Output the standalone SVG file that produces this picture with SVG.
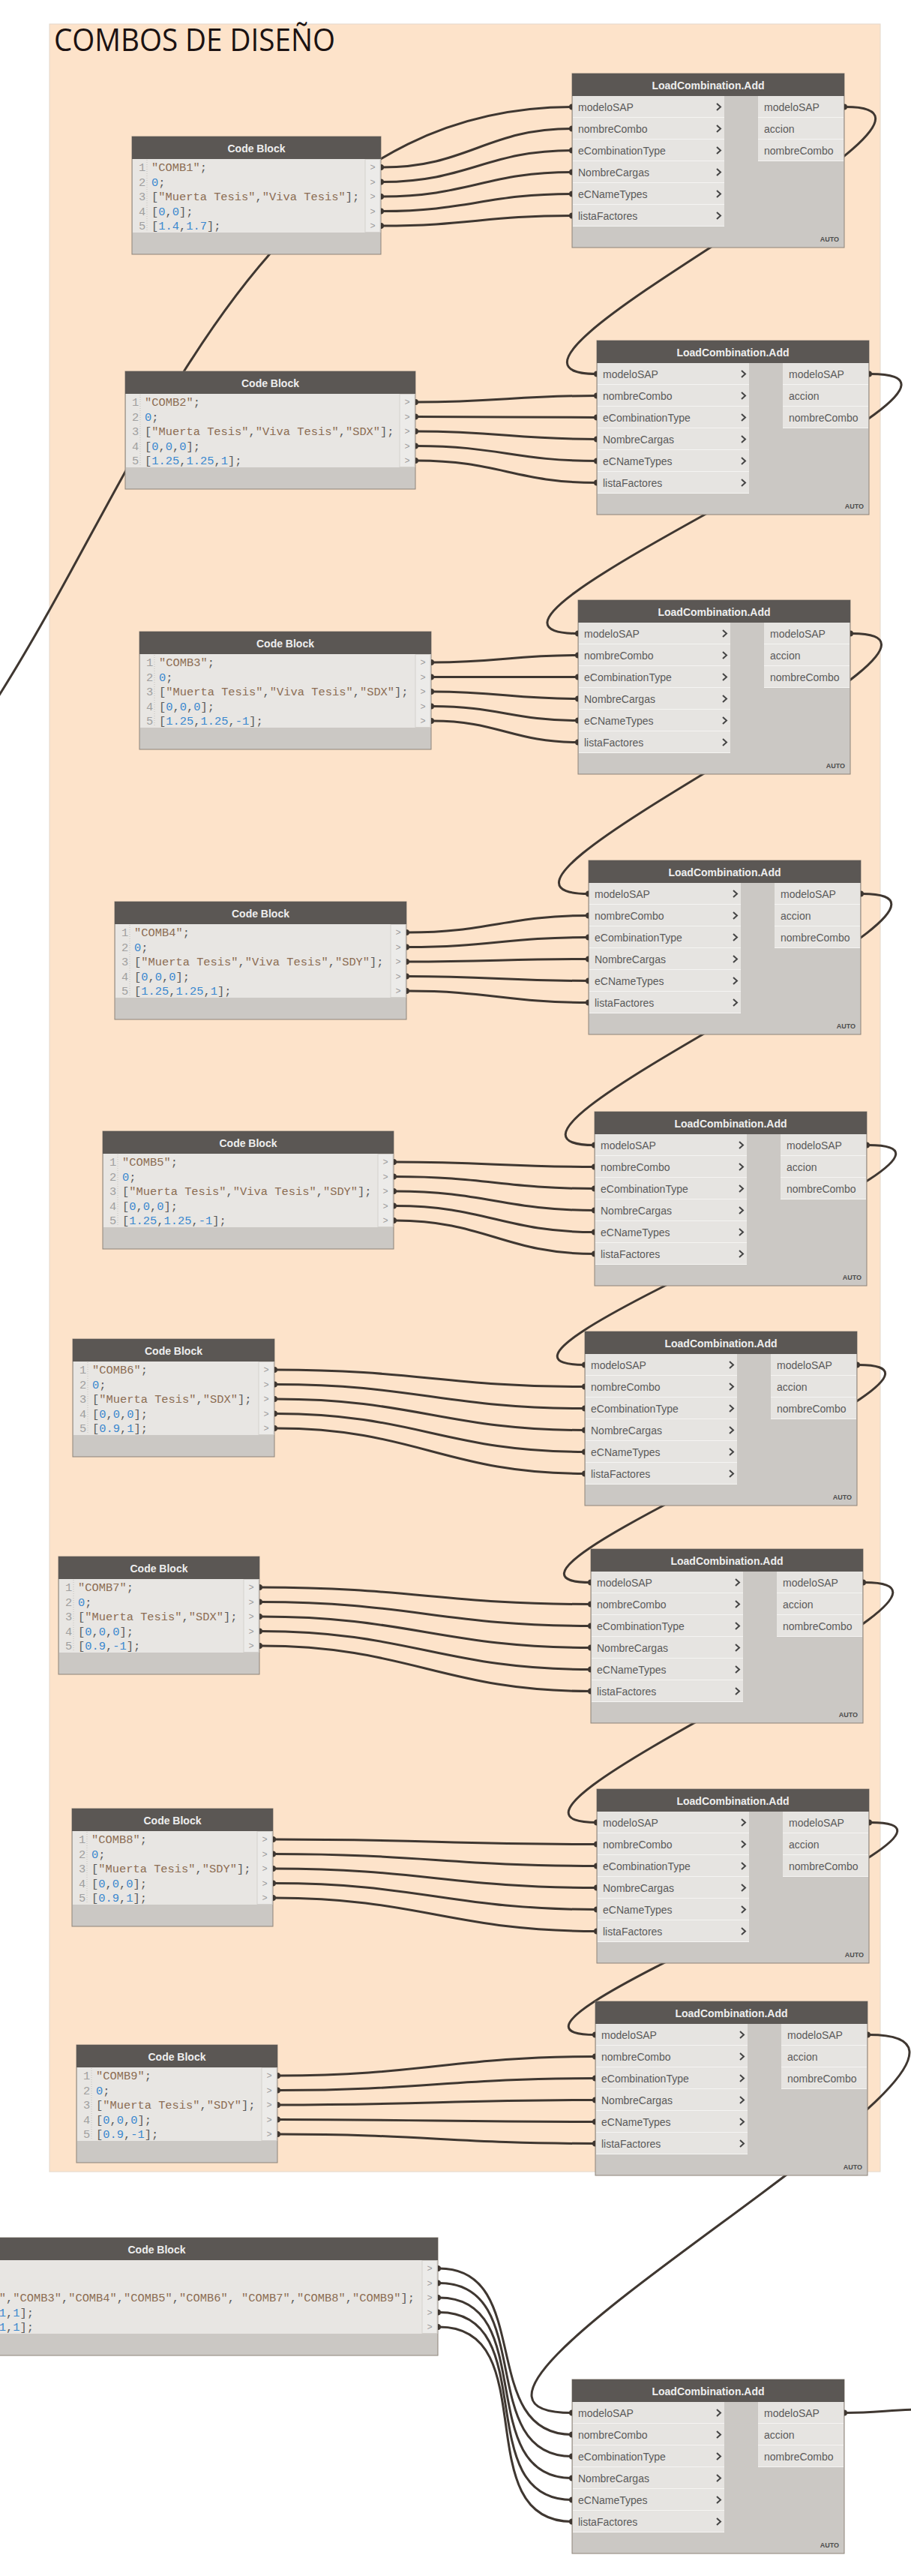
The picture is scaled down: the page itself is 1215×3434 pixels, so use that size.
<svg xmlns="http://www.w3.org/2000/svg" width="1215" height="3434" viewBox="0 0 1215 3434">
<style>
.wire{fill:none;stroke:#3f3731;stroke-width:3;stroke-linecap:round}
.body{fill:#cbc8c4;stroke:#8d8379;stroke-width:1}
.hdr{fill:#5b5754}
.ht{font-family:"Liberation Sans",Arial,sans-serif;font-size:14px;font-weight:bold;fill:#eeeeee;text-anchor:middle}
.row{fill:#e6e4e1}
.col{fill:#f5f4f2}
.lb{font-family:"Liberation Sans",Arial,sans-serif;font-size:14px;fill:#5a5a5a}
.auto{font-family:"Liberation Sans",Arial,sans-serif;font-size:9px;font-weight:bold;fill:#4d4d4d;text-anchor:end}
.chev{fill:none;stroke:#454545;stroke-width:2}
.pin{fill:#3f3731}
.code{fill:#e8e6e3}
.pcol{fill:#ecebe9;stroke:#d4d1cd;stroke-width:1}
.ln{font-family:"Liberation Mono",monospace;font-size:15.4px;fill:#a0a0a0}
.ct{font-family:"Liberation Mono",monospace;font-size:15.4px;fill:#5b5b5b;white-space:pre}
.s{fill:#8c6d53}
.n{fill:#3a88cf}
.pg{font-family:"Liberation Mono",monospace;font-size:12px;fill:#9c9c9c;text-anchor:middle}
.gut{stroke:#c4c1bd;stroke-width:1;stroke-dasharray:1 2}
.ttl{font-family:"Open Sans","Noto Sans",sans-serif;font-size:42px;fill:#1b1212}
</style>
<defs>
<path id="chev" class="chev" d="M193,-4.5 L198,0 L193,4.5"/>
<path id="pinL" class="pin" d="M0,-4 A4,4 0 0 0 0,4 Z"/>
<path id="pinR" class="pin" d="M0,-4 A4,4 0 0 1 0,4 Z"/>
</defs>
<rect width="1215" height="3434" fill="#ffffff"/>
<g id="panel">
<rect x="66" y="32" width="1108" height="2863" fill="#fde3ca" stroke="#e3d8cc" stroke-width="1"/>
<text class="ttl" x="72" y="68" textLength="375" lengthAdjust="spacingAndGlyphs">COMBOS DE DISEÑO</text>
</g>
<g id="connectors">
<path class="wire" d="M-31,975 L0,925 C205,600 344,143 763,142.5"/>
<path class="wire" d="M510,223 C624,223 649,171.5 763,171.5"/>
<path class="wire" d="M510,242.5 C624,242.5 649,200.5 763,200.5"/>
<path class="wire" d="M510,262 C624,262 649,229.5 763,229.5"/>
<path class="wire" d="M510,281.5 C624,281.5 649,258.5 763,258.5"/>
<path class="wire" d="M510,301 C624,301 649,287.5 763,287.5"/>
<path class="wire" d="M556,536 C664,536 688,527.5 796,527.5"/>
<path class="wire" d="M556,555.5 C664,555.5 688,556.5 796,556.5"/>
<path class="wire" d="M556,575 C664,575 688,585.5 796,585.5"/>
<path class="wire" d="M556,594.5 C664,594.5 688,614.5 796,614.5"/>
<path class="wire" d="M556,614 C664,614 688,643.5 796,643.5"/>
<path class="wire" d="M577,883 C664,883 684,873.5 771,873.5"/>
<path class="wire" d="M577,902.5 C664,902.5 684,902.5 771,902.5"/>
<path class="wire" d="M577,922 C664,922 684,931.5 771,931.5"/>
<path class="wire" d="M577,941.5 C664,941.5 684,960.5 771,960.5"/>
<path class="wire" d="M577,961 C664,961 684,989.5 771,989.5"/>
<path class="wire" d="M544,1243 C652,1243 677,1220.5 785,1220.5"/>
<path class="wire" d="M544,1262.5 C652,1262.5 677,1249.5 785,1249.5"/>
<path class="wire" d="M544,1282 C652,1282 677,1278.5 785,1278.5"/>
<path class="wire" d="M544,1301.5 C652,1301.5 677,1307.5 785,1307.5"/>
<path class="wire" d="M544,1321 C652,1321 677,1336.5 785,1336.5"/>
<path class="wire" d="M527,1549 C647,1549 673,1555.5 793,1555.5"/>
<path class="wire" d="M527,1568.5 C647,1568.5 673,1584.5 793,1584.5"/>
<path class="wire" d="M527,1588 C647,1588 673,1613.5 793,1613.5"/>
<path class="wire" d="M527,1607.5 C647,1607.5 673,1642.5 793,1642.5"/>
<path class="wire" d="M527,1627 C647,1627 673,1671.5 793,1671.5"/>
<path class="wire" d="M368,1826 C554,1826 594,1848.5 780,1848.5"/>
<path class="wire" d="M368,1845.5 C554,1845.5 594,1877.5 780,1877.5"/>
<path class="wire" d="M368,1865 C554,1865 594,1906.5 780,1906.5"/>
<path class="wire" d="M368,1884.5 C554,1884.5 594,1935.5 780,1935.5"/>
<path class="wire" d="M368,1904 C554,1904 594,1964.5 780,1964.5"/>
<path class="wire" d="M348,2116 C546,2116 590,2138.5 788,2138.5"/>
<path class="wire" d="M348,2135.5 C546,2135.5 590,2167.5 788,2167.5"/>
<path class="wire" d="M348,2155 C546,2155 590,2196.5 788,2196.5"/>
<path class="wire" d="M348,2174.5 C546,2174.5 590,2225.5 788,2225.5"/>
<path class="wire" d="M348,2194 C546,2194 590,2254.5 788,2254.5"/>
<path class="wire" d="M366,2452 C559,2452 603,2458.5 796,2458.5"/>
<path class="wire" d="M366,2471.5 C559,2471.5 603,2487.5 796,2487.5"/>
<path class="wire" d="M366,2491 C559,2491 603,2516.5 796,2516.5"/>
<path class="wire" d="M366,2510.5 C559,2510.5 603,2545.5 796,2545.5"/>
<path class="wire" d="M366,2530 C559,2530 603,2574.5 796,2574.5"/>
<path class="wire" d="M372,2767 C562,2767 604,2741.5 794,2741.5"/>
<path class="wire" d="M372,2786.5 C562,2786.5 604,2770.5 794,2770.5"/>
<path class="wire" d="M372,2806 C562,2806 604,2799.5 794,2799.5"/>
<path class="wire" d="M372,2825.5 C562,2825.5 604,2828.5 794,2828.5"/>
<path class="wire" d="M372,2845 C562,2845 604,2857.5 794,2857.5"/>
<path class="wire" d="M586,3024 C713,3024 636,3245.5 763,3245.5"/>
<path class="wire" d="M586,3043.5 C717,3043.5 632,3274.5 763,3274.5"/>
<path class="wire" d="M586,3063 C720,3063 629,3303.5 763,3303.5"/>
<path class="wire" d="M586,3082.5 C724,3082.5 625,3332.5 763,3332.5"/>
<path class="wire" d="M586,3102 C727,3102 622,3361.5 763,3361.5"/>
<path class="wire" d="M1128,142.5 C1347,142.5 577,498.5 796,498.5"/>
<path class="wire" d="M1161,498.5 C1396,498.5 536,844.5 771,844.5"/>
<path class="wire" d="M1136,844.5 C1358,844.5 563,1191.5 785,1191.5"/>
<path class="wire" d="M1150,1191.5 C1370,1191.5 573,1526.5 793,1526.5"/>
<path class="wire" d="M1158,1526.5 C1373,1526.5 565,1819.5 780,1819.5"/>
<path class="wire" d="M1145,1819.5 C1352,1819.5 581,2109.5 788,2109.5"/>
<path class="wire" d="M1153,2109.5 C1369,2109.5 580,2429.5 796,2429.5"/>
<path class="wire" d="M1161,2429.5 C1370,2429.5 585,2712.5 794,2712.5"/>
<path class="wire" d="M1159,2712.5 C1447,2712.5 475,3216.5 763,3216.5"/>
<path class="wire" d="M1128,3216.5 C1165,3216.5 1185,3213 1222,3212"/>
</g>

<g id="lc1" transform="translate(763,98)">
<rect class="body" width="363" height="232"/><rect class="hdr" width="363" height="30"/>
<text class="ht" x="181.5" y="20.5">LoadCombination.Add</text>
<rect class="col" x="1" y="30" width="202" height="174"/>
<rect class="row" x="1" y="30" width="202" height="28"/><rect class="row" x="1" y="59" width="202" height="28"/><rect class="row" x="1" y="88" width="202" height="28"/><rect class="row" x="1" y="117" width="202" height="28"/><rect class="row" x="1" y="146" width="202" height="28"/><rect class="row" x="1" y="175" width="202" height="28"/>
<rect class="col" x="248" y="30" width="114" height="87"/>
<rect class="row" x="248" y="30" width="114" height="28"/><rect class="row" x="248" y="59" width="114" height="28"/><rect class="row" x="248" y="88" width="114" height="28"/>
<text class="lb" x="8" y="49.5">modeloSAP</text><text class="lb" x="8" y="78.5">nombreCombo</text><text class="lb" x="8" y="107.5">eCombinationType</text><text class="lb" x="8" y="136.5">NombreCargas</text><text class="lb" x="8" y="165.5">eCNameTypes</text><text class="lb" x="8" y="194.5">listaFactores</text>
<use href="#chev" y="44.5"/><use href="#chev" y="73.5"/><use href="#chev" y="102.5"/><use href="#chev" y="131.5"/><use href="#chev" y="160.5"/><use href="#chev" y="189.5"/>
<text class="lb" x="256" y="49.5">modeloSAP</text><text class="lb" x="256" y="78.5">accion</text><text class="lb" x="256" y="107.5">nombreCombo</text>
<text class="auto" x="356" y="224">AUTO</text>
<use href="#pinL" y="44.5"/><use href="#pinL" y="73.5"/><use href="#pinL" y="102.5"/><use href="#pinL" y="131.5"/><use href="#pinL" y="160.5"/><use href="#pinL" y="189.5"/><use href="#pinR" x="363" y="44.5"/>
</g>

<g id="lc2" transform="translate(796,454)">
<rect class="body" width="363" height="232"/><rect class="hdr" width="363" height="30"/>
<text class="ht" x="181.5" y="20.5">LoadCombination.Add</text>
<rect class="col" x="1" y="30" width="202" height="174"/>
<rect class="row" x="1" y="30" width="202" height="28"/><rect class="row" x="1" y="59" width="202" height="28"/><rect class="row" x="1" y="88" width="202" height="28"/><rect class="row" x="1" y="117" width="202" height="28"/><rect class="row" x="1" y="146" width="202" height="28"/><rect class="row" x="1" y="175" width="202" height="28"/>
<rect class="col" x="248" y="30" width="114" height="87"/>
<rect class="row" x="248" y="30" width="114" height="28"/><rect class="row" x="248" y="59" width="114" height="28"/><rect class="row" x="248" y="88" width="114" height="28"/>
<text class="lb" x="8" y="49.5">modeloSAP</text><text class="lb" x="8" y="78.5">nombreCombo</text><text class="lb" x="8" y="107.5">eCombinationType</text><text class="lb" x="8" y="136.5">NombreCargas</text><text class="lb" x="8" y="165.5">eCNameTypes</text><text class="lb" x="8" y="194.5">listaFactores</text>
<use href="#chev" y="44.5"/><use href="#chev" y="73.5"/><use href="#chev" y="102.5"/><use href="#chev" y="131.5"/><use href="#chev" y="160.5"/><use href="#chev" y="189.5"/>
<text class="lb" x="256" y="49.5">modeloSAP</text><text class="lb" x="256" y="78.5">accion</text><text class="lb" x="256" y="107.5">nombreCombo</text>
<text class="auto" x="356" y="224">AUTO</text>
<use href="#pinL" y="44.5"/><use href="#pinL" y="73.5"/><use href="#pinL" y="102.5"/><use href="#pinL" y="131.5"/><use href="#pinL" y="160.5"/><use href="#pinL" y="189.5"/><use href="#pinR" x="363" y="44.5"/>
</g>

<g id="lc3" transform="translate(771,800)">
<rect class="body" width="363" height="232"/><rect class="hdr" width="363" height="30"/>
<text class="ht" x="181.5" y="20.5">LoadCombination.Add</text>
<rect class="col" x="1" y="30" width="202" height="174"/>
<rect class="row" x="1" y="30" width="202" height="28"/><rect class="row" x="1" y="59" width="202" height="28"/><rect class="row" x="1" y="88" width="202" height="28"/><rect class="row" x="1" y="117" width="202" height="28"/><rect class="row" x="1" y="146" width="202" height="28"/><rect class="row" x="1" y="175" width="202" height="28"/>
<rect class="col" x="248" y="30" width="114" height="87"/>
<rect class="row" x="248" y="30" width="114" height="28"/><rect class="row" x="248" y="59" width="114" height="28"/><rect class="row" x="248" y="88" width="114" height="28"/>
<text class="lb" x="8" y="49.5">modeloSAP</text><text class="lb" x="8" y="78.5">nombreCombo</text><text class="lb" x="8" y="107.5">eCombinationType</text><text class="lb" x="8" y="136.5">NombreCargas</text><text class="lb" x="8" y="165.5">eCNameTypes</text><text class="lb" x="8" y="194.5">listaFactores</text>
<use href="#chev" y="44.5"/><use href="#chev" y="73.5"/><use href="#chev" y="102.5"/><use href="#chev" y="131.5"/><use href="#chev" y="160.5"/><use href="#chev" y="189.5"/>
<text class="lb" x="256" y="49.5">modeloSAP</text><text class="lb" x="256" y="78.5">accion</text><text class="lb" x="256" y="107.5">nombreCombo</text>
<text class="auto" x="356" y="224">AUTO</text>
<use href="#pinL" y="44.5"/><use href="#pinL" y="73.5"/><use href="#pinL" y="102.5"/><use href="#pinL" y="131.5"/><use href="#pinL" y="160.5"/><use href="#pinL" y="189.5"/><use href="#pinR" x="363" y="44.5"/>
</g>

<g id="lc4" transform="translate(785,1147)">
<rect class="body" width="363" height="232"/><rect class="hdr" width="363" height="30"/>
<text class="ht" x="181.5" y="20.5">LoadCombination.Add</text>
<rect class="col" x="1" y="30" width="202" height="174"/>
<rect class="row" x="1" y="30" width="202" height="28"/><rect class="row" x="1" y="59" width="202" height="28"/><rect class="row" x="1" y="88" width="202" height="28"/><rect class="row" x="1" y="117" width="202" height="28"/><rect class="row" x="1" y="146" width="202" height="28"/><rect class="row" x="1" y="175" width="202" height="28"/>
<rect class="col" x="248" y="30" width="114" height="87"/>
<rect class="row" x="248" y="30" width="114" height="28"/><rect class="row" x="248" y="59" width="114" height="28"/><rect class="row" x="248" y="88" width="114" height="28"/>
<text class="lb" x="8" y="49.5">modeloSAP</text><text class="lb" x="8" y="78.5">nombreCombo</text><text class="lb" x="8" y="107.5">eCombinationType</text><text class="lb" x="8" y="136.5">NombreCargas</text><text class="lb" x="8" y="165.5">eCNameTypes</text><text class="lb" x="8" y="194.5">listaFactores</text>
<use href="#chev" y="44.5"/><use href="#chev" y="73.5"/><use href="#chev" y="102.5"/><use href="#chev" y="131.5"/><use href="#chev" y="160.5"/><use href="#chev" y="189.5"/>
<text class="lb" x="256" y="49.5">modeloSAP</text><text class="lb" x="256" y="78.5">accion</text><text class="lb" x="256" y="107.5">nombreCombo</text>
<text class="auto" x="356" y="224">AUTO</text>
<use href="#pinL" y="44.5"/><use href="#pinL" y="73.5"/><use href="#pinL" y="102.5"/><use href="#pinL" y="131.5"/><use href="#pinL" y="160.5"/><use href="#pinL" y="189.5"/><use href="#pinR" x="363" y="44.5"/>
</g>

<g id="lc5" transform="translate(793,1482)">
<rect class="body" width="363" height="232"/><rect class="hdr" width="363" height="30"/>
<text class="ht" x="181.5" y="20.5">LoadCombination.Add</text>
<rect class="col" x="1" y="30" width="202" height="174"/>
<rect class="row" x="1" y="30" width="202" height="28"/><rect class="row" x="1" y="59" width="202" height="28"/><rect class="row" x="1" y="88" width="202" height="28"/><rect class="row" x="1" y="117" width="202" height="28"/><rect class="row" x="1" y="146" width="202" height="28"/><rect class="row" x="1" y="175" width="202" height="28"/>
<rect class="col" x="248" y="30" width="114" height="87"/>
<rect class="row" x="248" y="30" width="114" height="28"/><rect class="row" x="248" y="59" width="114" height="28"/><rect class="row" x="248" y="88" width="114" height="28"/>
<text class="lb" x="8" y="49.5">modeloSAP</text><text class="lb" x="8" y="78.5">nombreCombo</text><text class="lb" x="8" y="107.5">eCombinationType</text><text class="lb" x="8" y="136.5">NombreCargas</text><text class="lb" x="8" y="165.5">eCNameTypes</text><text class="lb" x="8" y="194.5">listaFactores</text>
<use href="#chev" y="44.5"/><use href="#chev" y="73.5"/><use href="#chev" y="102.5"/><use href="#chev" y="131.5"/><use href="#chev" y="160.5"/><use href="#chev" y="189.5"/>
<text class="lb" x="256" y="49.5">modeloSAP</text><text class="lb" x="256" y="78.5">accion</text><text class="lb" x="256" y="107.5">nombreCombo</text>
<text class="auto" x="356" y="224">AUTO</text>
<use href="#pinL" y="44.5"/><use href="#pinL" y="73.5"/><use href="#pinL" y="102.5"/><use href="#pinL" y="131.5"/><use href="#pinL" y="160.5"/><use href="#pinL" y="189.5"/><use href="#pinR" x="363" y="44.5"/>
</g>

<g id="lc6" transform="translate(780,1775)">
<rect class="body" width="363" height="232"/><rect class="hdr" width="363" height="30"/>
<text class="ht" x="181.5" y="20.5">LoadCombination.Add</text>
<rect class="col" x="1" y="30" width="202" height="174"/>
<rect class="row" x="1" y="30" width="202" height="28"/><rect class="row" x="1" y="59" width="202" height="28"/><rect class="row" x="1" y="88" width="202" height="28"/><rect class="row" x="1" y="117" width="202" height="28"/><rect class="row" x="1" y="146" width="202" height="28"/><rect class="row" x="1" y="175" width="202" height="28"/>
<rect class="col" x="248" y="30" width="114" height="87"/>
<rect class="row" x="248" y="30" width="114" height="28"/><rect class="row" x="248" y="59" width="114" height="28"/><rect class="row" x="248" y="88" width="114" height="28"/>
<text class="lb" x="8" y="49.5">modeloSAP</text><text class="lb" x="8" y="78.5">nombreCombo</text><text class="lb" x="8" y="107.5">eCombinationType</text><text class="lb" x="8" y="136.5">NombreCargas</text><text class="lb" x="8" y="165.5">eCNameTypes</text><text class="lb" x="8" y="194.5">listaFactores</text>
<use href="#chev" y="44.5"/><use href="#chev" y="73.5"/><use href="#chev" y="102.5"/><use href="#chev" y="131.5"/><use href="#chev" y="160.5"/><use href="#chev" y="189.5"/>
<text class="lb" x="256" y="49.5">modeloSAP</text><text class="lb" x="256" y="78.5">accion</text><text class="lb" x="256" y="107.5">nombreCombo</text>
<text class="auto" x="356" y="224">AUTO</text>
<use href="#pinL" y="44.5"/><use href="#pinL" y="73.5"/><use href="#pinL" y="102.5"/><use href="#pinL" y="131.5"/><use href="#pinL" y="160.5"/><use href="#pinL" y="189.5"/><use href="#pinR" x="363" y="44.5"/>
</g>

<g id="lc7" transform="translate(788,2065)">
<rect class="body" width="363" height="232"/><rect class="hdr" width="363" height="30"/>
<text class="ht" x="181.5" y="20.5">LoadCombination.Add</text>
<rect class="col" x="1" y="30" width="202" height="174"/>
<rect class="row" x="1" y="30" width="202" height="28"/><rect class="row" x="1" y="59" width="202" height="28"/><rect class="row" x="1" y="88" width="202" height="28"/><rect class="row" x="1" y="117" width="202" height="28"/><rect class="row" x="1" y="146" width="202" height="28"/><rect class="row" x="1" y="175" width="202" height="28"/>
<rect class="col" x="248" y="30" width="114" height="87"/>
<rect class="row" x="248" y="30" width="114" height="28"/><rect class="row" x="248" y="59" width="114" height="28"/><rect class="row" x="248" y="88" width="114" height="28"/>
<text class="lb" x="8" y="49.5">modeloSAP</text><text class="lb" x="8" y="78.5">nombreCombo</text><text class="lb" x="8" y="107.5">eCombinationType</text><text class="lb" x="8" y="136.5">NombreCargas</text><text class="lb" x="8" y="165.5">eCNameTypes</text><text class="lb" x="8" y="194.5">listaFactores</text>
<use href="#chev" y="44.5"/><use href="#chev" y="73.5"/><use href="#chev" y="102.5"/><use href="#chev" y="131.5"/><use href="#chev" y="160.5"/><use href="#chev" y="189.5"/>
<text class="lb" x="256" y="49.5">modeloSAP</text><text class="lb" x="256" y="78.5">accion</text><text class="lb" x="256" y="107.5">nombreCombo</text>
<text class="auto" x="356" y="224">AUTO</text>
<use href="#pinL" y="44.5"/><use href="#pinL" y="73.5"/><use href="#pinL" y="102.5"/><use href="#pinL" y="131.5"/><use href="#pinL" y="160.5"/><use href="#pinL" y="189.5"/><use href="#pinR" x="363" y="44.5"/>
</g>

<g id="lc8" transform="translate(796,2385)">
<rect class="body" width="363" height="232"/><rect class="hdr" width="363" height="30"/>
<text class="ht" x="181.5" y="20.5">LoadCombination.Add</text>
<rect class="col" x="1" y="30" width="202" height="174"/>
<rect class="row" x="1" y="30" width="202" height="28"/><rect class="row" x="1" y="59" width="202" height="28"/><rect class="row" x="1" y="88" width="202" height="28"/><rect class="row" x="1" y="117" width="202" height="28"/><rect class="row" x="1" y="146" width="202" height="28"/><rect class="row" x="1" y="175" width="202" height="28"/>
<rect class="col" x="248" y="30" width="114" height="87"/>
<rect class="row" x="248" y="30" width="114" height="28"/><rect class="row" x="248" y="59" width="114" height="28"/><rect class="row" x="248" y="88" width="114" height="28"/>
<text class="lb" x="8" y="49.5">modeloSAP</text><text class="lb" x="8" y="78.5">nombreCombo</text><text class="lb" x="8" y="107.5">eCombinationType</text><text class="lb" x="8" y="136.5">NombreCargas</text><text class="lb" x="8" y="165.5">eCNameTypes</text><text class="lb" x="8" y="194.5">listaFactores</text>
<use href="#chev" y="44.5"/><use href="#chev" y="73.5"/><use href="#chev" y="102.5"/><use href="#chev" y="131.5"/><use href="#chev" y="160.5"/><use href="#chev" y="189.5"/>
<text class="lb" x="256" y="49.5">modeloSAP</text><text class="lb" x="256" y="78.5">accion</text><text class="lb" x="256" y="107.5">nombreCombo</text>
<text class="auto" x="356" y="224">AUTO</text>
<use href="#pinL" y="44.5"/><use href="#pinL" y="73.5"/><use href="#pinL" y="102.5"/><use href="#pinL" y="131.5"/><use href="#pinL" y="160.5"/><use href="#pinL" y="189.5"/><use href="#pinR" x="363" y="44.5"/>
</g>

<g id="lc9" transform="translate(794,2668)">
<rect class="body" width="363" height="232"/><rect class="hdr" width="363" height="30"/>
<text class="ht" x="181.5" y="20.5">LoadCombination.Add</text>
<rect class="col" x="1" y="30" width="202" height="174"/>
<rect class="row" x="1" y="30" width="202" height="28"/><rect class="row" x="1" y="59" width="202" height="28"/><rect class="row" x="1" y="88" width="202" height="28"/><rect class="row" x="1" y="117" width="202" height="28"/><rect class="row" x="1" y="146" width="202" height="28"/><rect class="row" x="1" y="175" width="202" height="28"/>
<rect class="col" x="248" y="30" width="114" height="87"/>
<rect class="row" x="248" y="30" width="114" height="28"/><rect class="row" x="248" y="59" width="114" height="28"/><rect class="row" x="248" y="88" width="114" height="28"/>
<text class="lb" x="8" y="49.5">modeloSAP</text><text class="lb" x="8" y="78.5">nombreCombo</text><text class="lb" x="8" y="107.5">eCombinationType</text><text class="lb" x="8" y="136.5">NombreCargas</text><text class="lb" x="8" y="165.5">eCNameTypes</text><text class="lb" x="8" y="194.5">listaFactores</text>
<use href="#chev" y="44.5"/><use href="#chev" y="73.5"/><use href="#chev" y="102.5"/><use href="#chev" y="131.5"/><use href="#chev" y="160.5"/><use href="#chev" y="189.5"/>
<text class="lb" x="256" y="49.5">modeloSAP</text><text class="lb" x="256" y="78.5">accion</text><text class="lb" x="256" y="107.5">nombreCombo</text>
<text class="auto" x="356" y="224">AUTO</text>
<use href="#pinL" y="44.5"/><use href="#pinL" y="73.5"/><use href="#pinL" y="102.5"/><use href="#pinL" y="131.5"/><use href="#pinL" y="160.5"/><use href="#pinL" y="189.5"/><use href="#pinR" x="363" y="44.5"/>
</g>

<g id="lc10" transform="translate(763,3172)">
<rect class="body" width="363" height="232"/><rect class="hdr" width="363" height="30"/>
<text class="ht" x="181.5" y="20.5">LoadCombination.Add</text>
<rect class="col" x="1" y="30" width="202" height="174"/>
<rect class="row" x="1" y="30" width="202" height="28"/><rect class="row" x="1" y="59" width="202" height="28"/><rect class="row" x="1" y="88" width="202" height="28"/><rect class="row" x="1" y="117" width="202" height="28"/><rect class="row" x="1" y="146" width="202" height="28"/><rect class="row" x="1" y="175" width="202" height="28"/>
<rect class="col" x="248" y="30" width="114" height="87"/>
<rect class="row" x="248" y="30" width="114" height="28"/><rect class="row" x="248" y="59" width="114" height="28"/><rect class="row" x="248" y="88" width="114" height="28"/>
<text class="lb" x="8" y="49.5">modeloSAP</text><text class="lb" x="8" y="78.5">nombreCombo</text><text class="lb" x="8" y="107.5">eCombinationType</text><text class="lb" x="8" y="136.5">NombreCargas</text><text class="lb" x="8" y="165.5">eCNameTypes</text><text class="lb" x="8" y="194.5">listaFactores</text>
<use href="#chev" y="44.5"/><use href="#chev" y="73.5"/><use href="#chev" y="102.5"/><use href="#chev" y="131.5"/><use href="#chev" y="160.5"/><use href="#chev" y="189.5"/>
<text class="lb" x="256" y="49.5">modeloSAP</text><text class="lb" x="256" y="78.5">accion</text><text class="lb" x="256" y="107.5">nombreCombo</text>
<text class="auto" x="356" y="224">AUTO</text>
<use href="#pinL" y="44.5"/><use href="#pinL" y="73.5"/><use href="#pinL" y="102.5"/><use href="#pinL" y="131.5"/><use href="#pinL" y="160.5"/><use href="#pinL" y="189.5"/><use href="#pinR" x="363" y="44.5"/>
</g>

<g id="cb1" transform="translate(176,182)">
<rect class="body" width="332" height="157"/><rect class="hdr" width="332" height="30"/>
<text class="ht" x="166" y="20.5">Code Block</text>
<rect class="code" x="1" y="30" width="330" height="98"/><rect class="pcol" x="311" y="30.5" width="20" height="97"/>
<line class="gut" x1="20" y1="31" x2="20" y2="127"/>
<text class="ln" x="9" y="46">1</text><text class="ln" x="9" y="65.5">2</text><text class="ln" x="9" y="85">3</text><text class="ln" x="9" y="104.5">4</text><text class="ln" x="9" y="124">5</text>
<text class="ct" x="26" y="46"><tspan class="s">"COMB1"</tspan>;</text>
<text class="ct" x="26" y="65.5"><tspan class="n">0</tspan>;</text>
<text class="ct" x="26" y="85" xml:space="preserve">[<tspan class="s">"Muerta Tesis"</tspan>,<tspan class="s">"Viva Tesis"</tspan>];</text>
<text class="ct" x="26" y="104.5">[<tspan class="n">0</tspan>,<tspan class="n">0</tspan>];</text>
<text class="ct" x="26" y="124">[<tspan class="n">1.4</tspan>,<tspan class="n">1.7</tspan>];</text>
<text class="pg" x="321" y="45">&gt;</text><text class="pg" x="321" y="64.5">&gt;</text><text class="pg" x="321" y="84">&gt;</text><text class="pg" x="321" y="103.5">&gt;</text><text class="pg" x="321" y="123">&gt;</text>
<use href="#pinR" x="332" y="41"/><use href="#pinR" x="332" y="60.5"/><use href="#pinR" x="332" y="80"/><use href="#pinR" x="332" y="99.5"/><use href="#pinR" x="332" y="119"/>
</g>

<g id="cb2" transform="translate(167,495)">
<rect class="body" width="387" height="157"/><rect class="hdr" width="387" height="30"/>
<text class="ht" x="193.5" y="20.5">Code Block</text>
<rect class="code" x="1" y="30" width="385" height="98"/><rect class="pcol" x="366" y="30.5" width="20" height="97"/>
<line class="gut" x1="20" y1="31" x2="20" y2="127"/>
<text class="ln" x="9" y="46">1</text><text class="ln" x="9" y="65.5">2</text><text class="ln" x="9" y="85">3</text><text class="ln" x="9" y="104.5">4</text><text class="ln" x="9" y="124">5</text>
<text class="ct" x="26" y="46"><tspan class="s">"COMB2"</tspan>;</text>
<text class="ct" x="26" y="65.5"><tspan class="n">0</tspan>;</text>
<text class="ct" x="26" y="85" xml:space="preserve">[<tspan class="s">"Muerta Tesis"</tspan>,<tspan class="s">"Viva Tesis"</tspan>,<tspan class="s">"SDX"</tspan>];</text>
<text class="ct" x="26" y="104.5">[<tspan class="n">0</tspan>,<tspan class="n">0</tspan>,<tspan class="n">0</tspan>];</text>
<text class="ct" x="26" y="124">[<tspan class="n">1.25</tspan>,<tspan class="n">1.25</tspan>,<tspan class="n">1</tspan>];</text>
<text class="pg" x="376" y="45">&gt;</text><text class="pg" x="376" y="64.5">&gt;</text><text class="pg" x="376" y="84">&gt;</text><text class="pg" x="376" y="103.5">&gt;</text><text class="pg" x="376" y="123">&gt;</text>
<use href="#pinR" x="387" y="41"/><use href="#pinR" x="387" y="60.5"/><use href="#pinR" x="387" y="80"/><use href="#pinR" x="387" y="99.5"/><use href="#pinR" x="387" y="119"/>
</g>

<g id="cb3" transform="translate(186,842)">
<rect class="body" width="389" height="157"/><rect class="hdr" width="389" height="30"/>
<text class="ht" x="194.5" y="20.5">Code Block</text>
<rect class="code" x="1" y="30" width="387" height="98"/><rect class="pcol" x="368" y="30.5" width="20" height="97"/>
<line class="gut" x1="20" y1="31" x2="20" y2="127"/>
<text class="ln" x="9" y="46">1</text><text class="ln" x="9" y="65.5">2</text><text class="ln" x="9" y="85">3</text><text class="ln" x="9" y="104.5">4</text><text class="ln" x="9" y="124">5</text>
<text class="ct" x="26" y="46"><tspan class="s">"COMB3"</tspan>;</text>
<text class="ct" x="26" y="65.5"><tspan class="n">0</tspan>;</text>
<text class="ct" x="26" y="85" xml:space="preserve">[<tspan class="s">"Muerta Tesis"</tspan>,<tspan class="s">"Viva Tesis"</tspan>,<tspan class="s">"SDX"</tspan>];</text>
<text class="ct" x="26" y="104.5">[<tspan class="n">0</tspan>,<tspan class="n">0</tspan>,<tspan class="n">0</tspan>];</text>
<text class="ct" x="26" y="124">[<tspan class="n">1.25</tspan>,<tspan class="n">1.25</tspan>,<tspan class="n">-1</tspan>];</text>
<text class="pg" x="378" y="45">&gt;</text><text class="pg" x="378" y="64.5">&gt;</text><text class="pg" x="378" y="84">&gt;</text><text class="pg" x="378" y="103.5">&gt;</text><text class="pg" x="378" y="123">&gt;</text>
<use href="#pinR" x="389" y="41"/><use href="#pinR" x="389" y="60.5"/><use href="#pinR" x="389" y="80"/><use href="#pinR" x="389" y="99.5"/><use href="#pinR" x="389" y="119"/>
</g>

<g id="cb4" transform="translate(153,1202)">
<rect class="body" width="389" height="157"/><rect class="hdr" width="389" height="30"/>
<text class="ht" x="194.5" y="20.5">Code Block</text>
<rect class="code" x="1" y="30" width="387" height="98"/><rect class="pcol" x="368" y="30.5" width="20" height="97"/>
<line class="gut" x1="20" y1="31" x2="20" y2="127"/>
<text class="ln" x="9" y="46">1</text><text class="ln" x="9" y="65.5">2</text><text class="ln" x="9" y="85">3</text><text class="ln" x="9" y="104.5">4</text><text class="ln" x="9" y="124">5</text>
<text class="ct" x="26" y="46"><tspan class="s">"COMB4"</tspan>;</text>
<text class="ct" x="26" y="65.5"><tspan class="n">0</tspan>;</text>
<text class="ct" x="26" y="85" xml:space="preserve">[<tspan class="s">"Muerta Tesis"</tspan>,<tspan class="s">"Viva Tesis"</tspan>,<tspan class="s">"SDY"</tspan>];</text>
<text class="ct" x="26" y="104.5">[<tspan class="n">0</tspan>,<tspan class="n">0</tspan>,<tspan class="n">0</tspan>];</text>
<text class="ct" x="26" y="124">[<tspan class="n">1.25</tspan>,<tspan class="n">1.25</tspan>,<tspan class="n">1</tspan>];</text>
<text class="pg" x="378" y="45">&gt;</text><text class="pg" x="378" y="64.5">&gt;</text><text class="pg" x="378" y="84">&gt;</text><text class="pg" x="378" y="103.5">&gt;</text><text class="pg" x="378" y="123">&gt;</text>
<use href="#pinR" x="389" y="41"/><use href="#pinR" x="389" y="60.5"/><use href="#pinR" x="389" y="80"/><use href="#pinR" x="389" y="99.5"/><use href="#pinR" x="389" y="119"/>
</g>

<g id="cb5" transform="translate(137,1508)">
<rect class="body" width="388" height="157"/><rect class="hdr" width="388" height="30"/>
<text class="ht" x="194" y="20.5">Code Block</text>
<rect class="code" x="1" y="30" width="386" height="98"/><rect class="pcol" x="367" y="30.5" width="20" height="97"/>
<line class="gut" x1="20" y1="31" x2="20" y2="127"/>
<text class="ln" x="9" y="46">1</text><text class="ln" x="9" y="65.5">2</text><text class="ln" x="9" y="85">3</text><text class="ln" x="9" y="104.5">4</text><text class="ln" x="9" y="124">5</text>
<text class="ct" x="26" y="46"><tspan class="s">"COMB5"</tspan>;</text>
<text class="ct" x="26" y="65.5"><tspan class="n">0</tspan>;</text>
<text class="ct" x="26" y="85" xml:space="preserve">[<tspan class="s">"Muerta Tesis"</tspan>,<tspan class="s">"Viva Tesis"</tspan>,<tspan class="s">"SDY"</tspan>];</text>
<text class="ct" x="26" y="104.5">[<tspan class="n">0</tspan>,<tspan class="n">0</tspan>,<tspan class="n">0</tspan>];</text>
<text class="ct" x="26" y="124">[<tspan class="n">1.25</tspan>,<tspan class="n">1.25</tspan>,<tspan class="n">-1</tspan>];</text>
<text class="pg" x="377" y="45">&gt;</text><text class="pg" x="377" y="64.5">&gt;</text><text class="pg" x="377" y="84">&gt;</text><text class="pg" x="377" y="103.5">&gt;</text><text class="pg" x="377" y="123">&gt;</text>
<use href="#pinR" x="388" y="41"/><use href="#pinR" x="388" y="60.5"/><use href="#pinR" x="388" y="80"/><use href="#pinR" x="388" y="99.5"/><use href="#pinR" x="388" y="119"/>
</g>

<g id="cb6" transform="translate(97,1785)">
<rect class="body" width="269" height="157"/><rect class="hdr" width="269" height="30"/>
<text class="ht" x="134.5" y="20.5">Code Block</text>
<rect class="code" x="1" y="30" width="267" height="98"/><rect class="pcol" x="248" y="30.5" width="20" height="97"/>
<line class="gut" x1="20" y1="31" x2="20" y2="127"/>
<text class="ln" x="9" y="46">1</text><text class="ln" x="9" y="65.5">2</text><text class="ln" x="9" y="85">3</text><text class="ln" x="9" y="104.5">4</text><text class="ln" x="9" y="124">5</text>
<text class="ct" x="26" y="46"><tspan class="s">"COMB6"</tspan>;</text>
<text class="ct" x="26" y="65.5"><tspan class="n">0</tspan>;</text>
<text class="ct" x="26" y="85" xml:space="preserve">[<tspan class="s">"Muerta Tesis"</tspan>,<tspan class="s">"SDX"</tspan>];</text>
<text class="ct" x="26" y="104.5">[<tspan class="n">0</tspan>,<tspan class="n">0</tspan>,<tspan class="n">0</tspan>];</text>
<text class="ct" x="26" y="124">[<tspan class="n">0.9</tspan>,<tspan class="n">1</tspan>];</text>
<text class="pg" x="258" y="45">&gt;</text><text class="pg" x="258" y="64.5">&gt;</text><text class="pg" x="258" y="84">&gt;</text><text class="pg" x="258" y="103.5">&gt;</text><text class="pg" x="258" y="123">&gt;</text>
<use href="#pinR" x="269" y="41"/><use href="#pinR" x="269" y="60.5"/><use href="#pinR" x="269" y="80"/><use href="#pinR" x="269" y="99.5"/><use href="#pinR" x="269" y="119"/>
</g>

<g id="cb7" transform="translate(78,2075)">
<rect class="body" width="268" height="157"/><rect class="hdr" width="268" height="30"/>
<text class="ht" x="134" y="20.5">Code Block</text>
<rect class="code" x="1" y="30" width="266" height="98"/><rect class="pcol" x="247" y="30.5" width="20" height="97"/>
<line class="gut" x1="20" y1="31" x2="20" y2="127"/>
<text class="ln" x="9" y="46">1</text><text class="ln" x="9" y="65.5">2</text><text class="ln" x="9" y="85">3</text><text class="ln" x="9" y="104.5">4</text><text class="ln" x="9" y="124">5</text>
<text class="ct" x="26" y="46"><tspan class="s">"COMB7"</tspan>;</text>
<text class="ct" x="26" y="65.5"><tspan class="n">0</tspan>;</text>
<text class="ct" x="26" y="85" xml:space="preserve">[<tspan class="s">"Muerta Tesis"</tspan>,<tspan class="s">"SDX"</tspan>];</text>
<text class="ct" x="26" y="104.5">[<tspan class="n">0</tspan>,<tspan class="n">0</tspan>,<tspan class="n">0</tspan>];</text>
<text class="ct" x="26" y="124">[<tspan class="n">0.9</tspan>,<tspan class="n">-1</tspan>];</text>
<text class="pg" x="257" y="45">&gt;</text><text class="pg" x="257" y="64.5">&gt;</text><text class="pg" x="257" y="84">&gt;</text><text class="pg" x="257" y="103.5">&gt;</text><text class="pg" x="257" y="123">&gt;</text>
<use href="#pinR" x="268" y="41"/><use href="#pinR" x="268" y="60.5"/><use href="#pinR" x="268" y="80"/><use href="#pinR" x="268" y="99.5"/><use href="#pinR" x="268" y="119"/>
</g>

<g id="cb8" transform="translate(96,2411)">
<rect class="body" width="268" height="157"/><rect class="hdr" width="268" height="30"/>
<text class="ht" x="134" y="20.5">Code Block</text>
<rect class="code" x="1" y="30" width="266" height="98"/><rect class="pcol" x="247" y="30.5" width="20" height="97"/>
<line class="gut" x1="20" y1="31" x2="20" y2="127"/>
<text class="ln" x="9" y="46">1</text><text class="ln" x="9" y="65.5">2</text><text class="ln" x="9" y="85">3</text><text class="ln" x="9" y="104.5">4</text><text class="ln" x="9" y="124">5</text>
<text class="ct" x="26" y="46"><tspan class="s">"COMB8"</tspan>;</text>
<text class="ct" x="26" y="65.5"><tspan class="n">0</tspan>;</text>
<text class="ct" x="26" y="85" xml:space="preserve">[<tspan class="s">"Muerta Tesis"</tspan>,<tspan class="s">"SDY"</tspan>];</text>
<text class="ct" x="26" y="104.5">[<tspan class="n">0</tspan>,<tspan class="n">0</tspan>,<tspan class="n">0</tspan>];</text>
<text class="ct" x="26" y="124">[<tspan class="n">0.9</tspan>,<tspan class="n">1</tspan>];</text>
<text class="pg" x="257" y="45">&gt;</text><text class="pg" x="257" y="64.5">&gt;</text><text class="pg" x="257" y="84">&gt;</text><text class="pg" x="257" y="103.5">&gt;</text><text class="pg" x="257" y="123">&gt;</text>
<use href="#pinR" x="268" y="41"/><use href="#pinR" x="268" y="60.5"/><use href="#pinR" x="268" y="80"/><use href="#pinR" x="268" y="99.5"/><use href="#pinR" x="268" y="119"/>
</g>

<g id="cb9" transform="translate(102,2726)">
<rect class="body" width="268" height="157"/><rect class="hdr" width="268" height="30"/>
<text class="ht" x="134" y="20.5">Code Block</text>
<rect class="code" x="1" y="30" width="266" height="98"/><rect class="pcol" x="247" y="30.5" width="20" height="97"/>
<line class="gut" x1="20" y1="31" x2="20" y2="127"/>
<text class="ln" x="9" y="46">1</text><text class="ln" x="9" y="65.5">2</text><text class="ln" x="9" y="85">3</text><text class="ln" x="9" y="104.5">4</text><text class="ln" x="9" y="124">5</text>
<text class="ct" x="26" y="46"><tspan class="s">"COMB9"</tspan>;</text>
<text class="ct" x="26" y="65.5"><tspan class="n">0</tspan>;</text>
<text class="ct" x="26" y="85" xml:space="preserve">[<tspan class="s">"Muerta Tesis"</tspan>,<tspan class="s">"SDY"</tspan>];</text>
<text class="ct" x="26" y="104.5">[<tspan class="n">0</tspan>,<tspan class="n">0</tspan>,<tspan class="n">0</tspan>];</text>
<text class="ct" x="26" y="124">[<tspan class="n">0.9</tspan>,<tspan class="n">-1</tspan>];</text>
<text class="pg" x="257" y="45">&gt;</text><text class="pg" x="257" y="64.5">&gt;</text><text class="pg" x="257" y="84">&gt;</text><text class="pg" x="257" y="103.5">&gt;</text><text class="pg" x="257" y="123">&gt;</text>
<use href="#pinR" x="268" y="41"/><use href="#pinR" x="268" y="60.5"/><use href="#pinR" x="268" y="80"/><use href="#pinR" x="268" y="99.5"/><use href="#pinR" x="268" y="119"/>
</g>

<g id="cb10" transform="translate(-166,2983)">
<rect class="body" width="750" height="157"/><rect class="hdr" width="750" height="30"/>
<text class="ht" x="375" y="20.5">Code Block</text>
<rect class="code" x="1" y="30" width="748" height="98"/><rect class="pcol" x="729" y="30.5" width="20" height="97"/>
<text class="ct" x="164.75" y="85" xml:space="preserve"><tspan class="s">"</tspan>,<tspan class="s">"COMB3"</tspan>,<tspan class="s">"COMB4"</tspan>,<tspan class="s">"COMB5"</tspan>,<tspan class="s">"COMB6"</tspan>, <tspan class="s">"COMB7"</tspan>,<tspan class="s">"COMB8"</tspan>,<tspan class="s">"COMB9"</tspan>];</text>
<text class="ct" x="164.75" y="104.5"><tspan class="n">1</tspan>,<tspan class="n">1</tspan>];</text>
<text class="ct" x="164.75" y="124"><tspan class="n">1</tspan>,<tspan class="n">1</tspan>];</text>
<text class="pg" x="739" y="45">&gt;</text><text class="pg" x="739" y="64.5">&gt;</text><text class="pg" x="739" y="84">&gt;</text><text class="pg" x="739" y="103.5">&gt;</text><text class="pg" x="739" y="123">&gt;</text>
<use href="#pinR" x="750" y="41"/><use href="#pinR" x="750" y="60.5"/><use href="#pinR" x="750" y="80"/><use href="#pinR" x="750" y="99.5"/><use href="#pinR" x="750" y="119"/>
</g>
</svg>
